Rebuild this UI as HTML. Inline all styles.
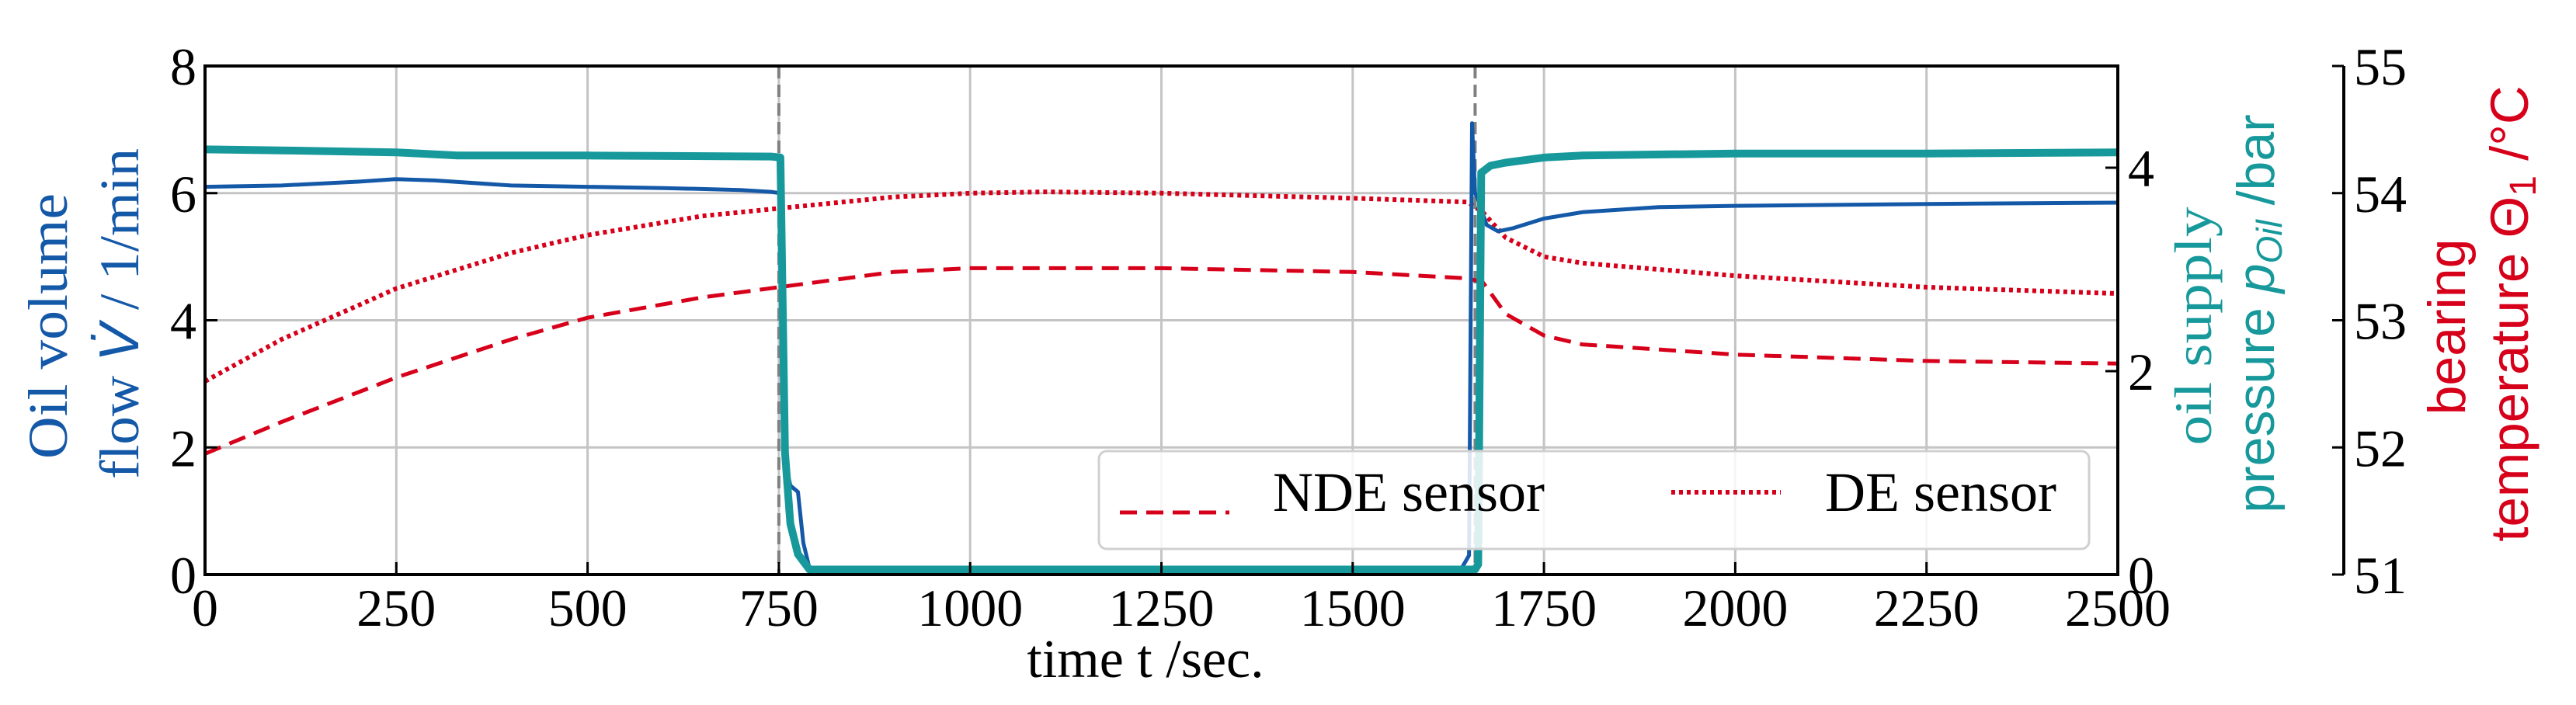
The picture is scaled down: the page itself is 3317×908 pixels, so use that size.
<!DOCTYPE html>
<html><head><meta charset="utf-8">
<style>
html,body{margin:0;padding:0;background:#fff;}
svg{display:block;}
text{font-family:"Liberation Serif",serif;}
</style></head>
<body>
<svg id="chart" width="3317" height="908" viewBox="0 0 3317 908" xmlns="http://www.w3.org/2000/svg">
<g id="grid"></g>
<g id="series"></g>
<g id="axes"></g>
<g id="legend"></g>
</svg>
<script>
// ---- data ----
const xTicks = [0,250,500,750,1000,1250,1500,1750,2000,2250,2500];
const flowTicks = [0,2,4,6,8];
const pressTicks = [0,2,4];
const tempTicks = [51,52,53,54,55];
const eventTimes = [750,1660];

const flowT = [0,100,200,250,300,400,500,600,700,740,752,758,765,775,782,790,800,1000,1300,1640,1652,1656,1660,1664,1668,1675,1690,1710,1750,1800,1900,2000,2250,2500];
const flowV = [6.1,6.12,6.18,6.22,6.2,6.12,6.1,6.08,6.05,6.02,6.0,1.8,1.4,1.3,0.5,0.1,0.06,0.05,0.05,0.05,0.3,7.1,6.0,5.9,5.75,5.5,5.4,5.45,5.6,5.7,5.78,5.8,5.83,5.85];

const pressT = [0,100,250,330,500,740,752,758,765,775,790,800,1000,1500,1650,1660,1664,1668,1680,1700,1750,1800,2000,2250,2500];
const pressV = [4.18,4.17,4.15,4.12,4.12,4.11,4.1,1.2,0.5,0.2,0.05,0.05,0.05,0.05,0.05,0.05,0.1,3.95,4.02,4.05,4.1,4.12,4.14,4.14,4.15];

const ndeT = [0,100,250,400,500,650,750,900,1000,1250,1500,1650,1670,1700,1750,1800,2000,2250,2500];
const ndeV = [51.95,52.2,52.55,52.85,53.02,53.18,53.26,53.38,53.41,53.41,53.38,53.33,53.3,53.05,52.88,52.81,52.73,52.68,52.66];

const deT = [0,100,250,400,500,650,750,900,1000,1100,1250,1500,1650,1670,1700,1750,1800,2000,2250,2500];
const deV = [52.52,52.85,53.25,53.53,53.67,53.82,53.88,53.97,54.0,54.01,54.0,53.96,53.93,53.85,53.65,53.5,53.45,53.35,53.26,53.21];

// ---- layout ----
const L=264, R=2727, T=85, B=740;
const xS = t => L + (t/2500)*(R-L);
const yFlow = v => B - (v/8)*(B-T);
const yPress = v => B - (v/5)*(B-T);
const yTemp = v => B - ((v-51)/4)*(B-T);
const NS="http://www.w3.org/2000/svg";
function mk(tag, attrs, parent, txt){
  const e=document.createElementNS(NS,tag);
  for(const k in attrs) e.setAttribute(k,attrs[k]);
  if(txt!==undefined) e.textContent=txt;
  parent.appendChild(e); return e;
}
const grid=document.getElementById('grid'), ser=document.getElementById('series'), ax=document.getElementById('axes');

xTicks.forEach(t=>{
  const g=mk('line',{x1:xS(t),x2:xS(t),y1:T,y2:B,stroke:'#c4c4c4','stroke-width':3},grid);
  
  
});
flowTicks.forEach(v=>{
  const g=mk('line',{x1:L,x2:R,y1:yFlow(v),y2:yFlow(v),stroke:'#c4c4c4','stroke-width':3},grid);
  
  
});
eventTimes.forEach(t=>{
  const g=mk('line',{x1:xS(t),x2:xS(t),y1:T,y2:B,stroke:'#808080','stroke-width':4,'stroke-dasharray':'16 8'},grid);
  
  
});

function path(ts,vs,yf){return ts.map((t,i)=>(i?'L':'M')+xS(t).toFixed(1)+' '+yf(vs[i]).toFixed(1)).join(' ');}
let p;
p=mk('path',{d:path(ndeT,ndeV,yTemp),fill:'none',stroke:'#d7001a','stroke-width':5,'stroke-dasharray':'22 12'},ser);


p=mk('path',{d:path(deT,deV,yTemp),fill:'none',stroke:'#d7001a','stroke-width':6,'stroke-dasharray':'5 5'},ser);


p=mk('path',{d:path(flowT,flowV,yFlow),fill:'none',stroke:'#1458a8','stroke-width':5,'stroke-linejoin':'round'},ser);


p=mk('path',{d:path(pressT,pressV,yPress),fill:'none',stroke:'#17999c','stroke-width':10,'stroke-linejoin':'round'},ser);



p=mk('rect',{x:L,y:T,width:R-L,height:B-T,fill:'none',stroke:'#000','stroke-width':4},ax);



xTicks.forEach(t=>{
  mk('line',{x1:xS(t),x2:xS(t),y1:B,y2:B-16,stroke:'#000','stroke-width':3},ax);
  const e=mk('text',{x:xS(t),y:806,'font-size':68,'text-anchor':'middle'},ax,String(t));
  
  
});
flowTicks.forEach(v=>{
  mk('line',{x1:L,x2:L+16,y1:yFlow(v),y2:yFlow(v),stroke:'#000','stroke-width':3},ax);
  const e=mk('text',{x:253,y:yFlow(v)+24,'font-size':68,'text-anchor':'end'},ax,String(v));
  
  
});
pressTicks.forEach(v=>{
  mk('line',{x1:R-16,x2:R,y1:yPress(v),y2:yPress(v),stroke:'#000','stroke-width':3},ax);
  const e=mk('text',{x:2740,y:yPress(v)+24,'font-size':68},ax,String(v));
  
  
});
p=mk('line',{x1:3018,x2:3018,y1:T,y2:B,stroke:'#000','stroke-width':4},ax);


tempTicks.forEach(v=>{
  mk('line',{x1:3003,x2:3018,y1:yTemp(v),y2:yTemp(v),stroke:'#000','stroke-width':3},ax);
  const e=mk('text',{x:3031,y:yTemp(v)+24,'font-size':68},ax,String(v));
  
  
});
</script>
<svg style="position:absolute;left:0;top:0" width="3317" height="908" xmlns="http://www.w3.org/2000/svg">
<text x="1475" y="872" font-size="70" text-anchor="middle">time t /sec.</text>
<text transform="translate(86,420) rotate(-90)" font-size="72" fill="#1458a8" text-anchor="middle" textLength="342" lengthAdjust="spacingAndGlyphs">Oil volume</text>
<text transform="translate(178,404) rotate(-90)" font-size="72" fill="#1458a8" text-anchor="middle" textLength="426" lengthAdjust="spacingAndGlyphs">flow <tspan font-family="Liberation Sans,sans-serif" font-style="italic">V̇</tspan> / 1/min</text>
<text transform="translate(2847,420) rotate(-90)" font-size="68" fill="#17999c" text-anchor="middle" textLength="307" lengthAdjust="spacingAndGlyphs">oil supply</text>
<text transform="translate(2928,404) rotate(-90)" font-size="68" fill="#17999c" text-anchor="middle" style="font-family:'Liberation Sans',sans-serif">pressure <tspan font-style="italic">p<tspan font-size="46" dy="10">Oil</tspan></tspan><tspan dy="-10"> /bar</tspan></text>
<text transform="translate(3174,421) rotate(-90)" font-size="68" fill="#d7001a" text-anchor="middle" style="font-family:'Liberation Sans',sans-serif">bearing</text>
<text transform="translate(3255,404) rotate(-90)" font-size="69" fill="#d7001a" text-anchor="middle" style="font-family:'Liberation Sans',sans-serif">temperature Θ<tspan font-size="48" dy="10">1</tspan><tspan dy="-10"> /°C</tspan></text>
<g>
<rect x="1415" y="581" width="1275" height="126" rx="10" fill="#fff" fill-opacity="0.85" stroke="#d0d0d0" stroke-width="3"/>
<line x1="1442" x2="1583" y1="660" y2="660" stroke="#d7001a" stroke-width="5" stroke-dasharray="22 12"/>
<text x="1639" y="658" font-size="72">NDE sensor</text>
<line x1="2152" x2="2293" y1="634" y2="634" stroke="#d7001a" stroke-width="6" stroke-dasharray="5 5"/>
<text x="2350" y="658" font-size="72">DE sensor</text>
</g>
</svg>
</body></html>
